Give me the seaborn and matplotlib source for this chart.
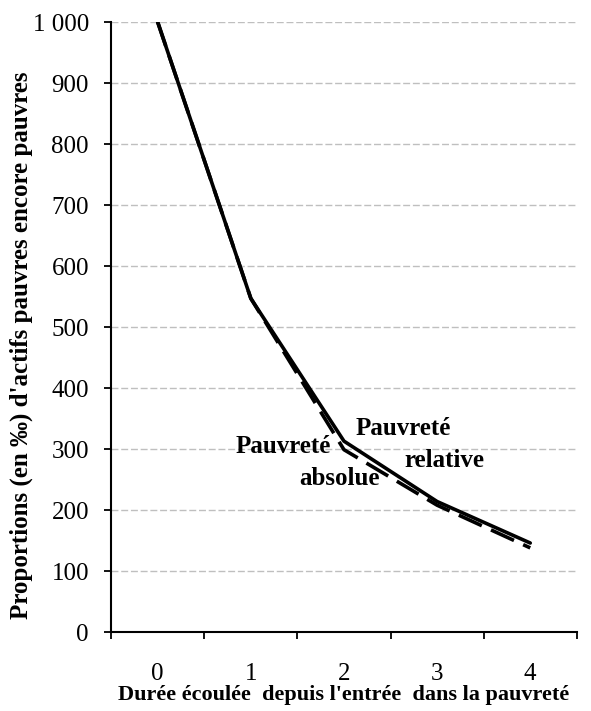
import numpy as np
import pandas as pd
import matplotlib
matplotlib.use("Agg")
import matplotlib.pyplot as plt
from matplotlib.ticker import FuncFormatter, FixedLocator
import seaborn as sns

# data
durations = [0, 1, 2, 3, 4]
relative = [1000, 547, 313, 214, 146]
absolue = [1000, 547, 299, 208, 138]
series_names = ["Pauvreté relative", "Pauvreté absolue"]

df = pd.DataFrame({
    "duree": durations * 2,
    "valeur": relative + absolue,
    "serie": [series_names[0]] * len(durations) + [series_names[1]] * len(durations),
})

sns.set_style("white")
plt.rcParams["font.family"] = ["Liberation Serif", "DejaVu Serif"]
plt.rcParams["text.color"] = "black"
plt.rcParams["axes.labelcolor"] = "black"
plt.rcParams["xtick.color"] = "black"
plt.rcParams["ytick.color"] = "black"

fig = plt.figure(figsize=(5.91, 7.11), dpi=100)
ax = fig.add_axes([0.188, 0.111, 0.788, 0.858])

sns.lineplot(data=df, x="duree", y="valeur", style="serie", color="black",
             linewidth=2.6, dashes={series_names[0]: "", series_names[1]: (7, 2.8)},
             legend=False, ax=ax)

ax.set_xlim(-0.5, 4.5)
ax.set_ylim(0, 1000)
ax.yaxis.set_major_locator(FixedLocator(np.arange(0, 1001, 100)))
ax.yaxis.set_major_formatter(FuncFormatter(lambda v, p: f"{int(v):,}".replace(",", " ")))
ax.grid(axis="y", color="#BFBFBF", linestyle=(0, (5, 2)), linewidth=1)
ax.set_axisbelow(True)

ax.xaxis.set_major_locator(FixedLocator(np.arange(-0.5, 4.6, 1)))
ax.xaxis.set_minor_locator(FixedLocator(durations))
ax.set_xticklabels([], minor=False)
ax.set_xticklabels([str(d) for d in durations], minor=True)
ax.tick_params(axis="x", which="major", direction="out", length=5, width=1.3)
ax.tick_params(axis="x", which="minor", length=0, pad=22, labelsize=18)
ax.tick_params(axis="y", direction="out", length=5, width=1.3, labelsize=18, pad=11)
ax.tick_params(bottom=True, left=True)

for side in ["top", "right"]:
    ax.spines[side].set_visible(False)
for side in ["left", "bottom"]:
    ax.spines[side].set_color("black")
    ax.spines[side].set_linewidth(1.5)

ax.set_xlabel("Durée écoulée  depuis l'entrée  dans la pauvreté", fontsize=16,
              fontweight="bold", labelpad=0)
ax.set_ylabel("Proportions (en ‰) d'actifs pauvres encore pauvres", fontsize=18,
              fontweight="bold", labelpad=1)
ax.yaxis.set_label_coords(-0.168, 0.47)

ann = dict(fontsize=18, fontweight="bold", ha="center", va="center")
ax.text(2.64, 334, "Pauvreté", **ann)
ax.text(3.08, 282, "relative", **ann)
ax.text(1.35, 305, "Pauvreté", **ann)
ax.text(1.95, 252, "absolue", **ann)

fig.savefig("out.png", dpi=100)
